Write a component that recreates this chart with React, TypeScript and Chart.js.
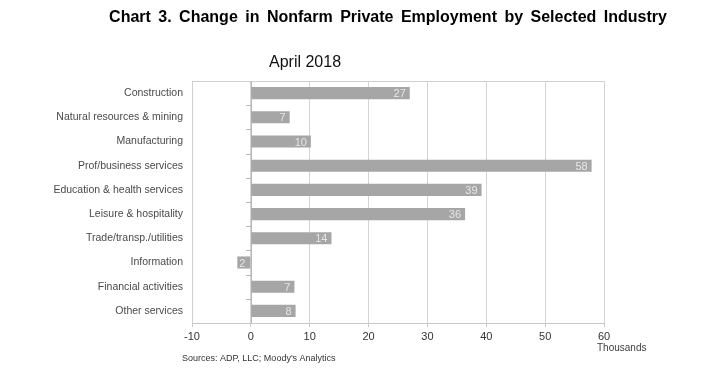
import React, { useEffect, useRef } from "react";
import { Chart, registerables } from "chart.js";

Chart.register(...registerables);

const categories = [
  "Construction",
  "Natural resources & mining",
  "Manufacturing",
  "Prof/business services",
  "Education & health services",
  "Leisure & hospitality",
  "Trade/transp./utilities",
  "Information",
  "Financial activities",
  "Other services",
];
const values = [27, 6.6, 10.2, 57.9, 39.2, 36.4, 13.7, -2.3, 7.4, 7.6];
const valueLabels = ["27", "7", "10", "58", "39", "36", "14", "2", "7", "8"];
const xTicks = [-10, 0, 10, 20, 30, 40, 50, 60];
const chartTitle = "Chart 3. Change in Nonfarm Private Employment by Selected Industry";
const subTitle = "April 2018";
const unitLabel = "Thousands";
const sourceNote = "Sources: ADP, LLC; Moody's Analytics";

const FONT = "'Liberation Sans', Arial, sans-serif";

export default function App() {
  const ref = useRef<HTMLCanvasElement | null>(null);

  useEffect(() => {
    document.body.style.margin = "0";
    const canvas = ref.current;
    if (!canvas) return;

    const overlay = {
      id: "overlay",
      beforeDatasetsDraw(chart: any) {
        const { ctx, chartArea, scales } = chart;
        const x0 = scales.x.getPixelForValue(0);
        ctx.save();
        ctx.strokeStyle = "#cfcfcf";
        ctx.lineWidth = 1;
        ctx.beginPath();
        ctx.moveTo(chartArea.left, chartArea.top + 0.5);
        ctx.lineTo(chartArea.right, chartArea.top + 0.5);
        ctx.stroke();
        ctx.strokeStyle = "#b8b8b8";
        ctx.beginPath();
        ctx.moveTo(Math.round(x0) + 0.5, chartArea.top);
        ctx.lineTo(Math.round(x0) + 0.5, chartArea.bottom);
        ctx.stroke();
        const n = categories.length;
        const step = (chartArea.bottom - chartArea.top) / n;
        for (let i = 1; i < n; i++) {
          const y = Math.round(chartArea.top + i * step) + 0.5;
          ctx.beginPath();
          ctx.moveTo(Math.round(x0) - 5, y);
          ctx.lineTo(Math.round(x0), y);
          ctx.stroke();
        }
        ctx.restore();
      },
      afterDatasetsDraw(chart: any) {
        const { ctx } = chart;
        const meta = chart.getDatasetMeta(0);
        ctx.save();
        ctx.font = `11px ${FONT}`;
        ctx.fillStyle = "#e6e6e6";
        ctx.textBaseline = "middle";
        meta.data.forEach((bar: any, i: number) => {
          const v = values[i];
          if (v >= 0) {
            ctx.textAlign = "right";
            ctx.fillText(valueLabels[i], bar.x - 4, bar.y + 1);
          } else {
            ctx.textAlign = "left";
            ctx.fillText(valueLabels[i], bar.x + 2, bar.y + 1);
          }
        });
        ctx.restore();
      },
      afterDraw(chart: any) {
        const { ctx } = chart;
        ctx.save();
        ctx.fillStyle = "#000000";
        ctx.textBaseline = "middle";
        ctx.textAlign = "center";
        ctx.font = `bold 16px ${FONT}`;
        try {
          (ctx as any).wordSpacing = "3px";
        } catch (e) {}
        ctx.fillText(chartTitle, 388, 18);
        try {
          (ctx as any).wordSpacing = "0px";
        } catch (e) {}
        ctx.font = `16px ${FONT}`;
        ctx.fillStyle = "#111111";
        ctx.fillText(subTitle, 305, 63);
        ctx.textAlign = "left";
        ctx.fillStyle = "#404040";
        ctx.font = `10px ${FONT}`;
        ctx.fillText(unitLabel, 597, 348);
        ctx.font = `9px ${FONT}`;
        ctx.fillStyle = "#333333";
        ctx.fillText(sourceNote, 182, 359);
        ctx.restore();
      },
    };

    const chart = new Chart(canvas, {
      type: "bar",
      data: {
        labels: categories,
        datasets: [
          {
            data: values,
            backgroundColor: "#a6a6a6",
            borderWidth: 0,
            barPercentage: 0.5,
            categoryPercentage: 1,
          },
        ],
      },
      options: {
        indexAxis: "y",
        responsive: false,
        animation: false,
        layout: { padding: { left: 0, right: 103, top: 81, bottom: 0 } },
        plugins: {
          legend: { display: false },
          title: { display: false },
          tooltip: { enabled: false },
        },
        scales: {
          x: {
            min: -10,
            max: 60,
            afterBuildTicks(scale: any) {
              scale.ticks = xTicks.map((v) => ({ value: v }));
            },
            afterFit(scale: any) {
              scale.height = 54;
            },
            grid: {
              color: "#d4d4d4",
              drawTicks: true,
              tickLength: 4,
              tickColor: "#c8c8c8",
            },
            border: { display: true, color: "#c8c8c8" },
            ticks: {
              padding: 3,
              color: "#333333",
              font: { family: FONT, size: 11 },
              maxRotation: 0,
            },
          },
          y: {
            afterFit(scale: any) {
              scale.width = 192;
            },
            grid: { display: false, drawTicks: false },
            border: { display: true, color: "#cfcfcf" },
            ticks: {
              padding: 9,
              color: "#4a4a4a",
              font: { family: FONT, size: 10.5 },
            },
          },
        },
      },
      plugins: [overlay],
    });

    return () => chart.destroy();
  }, []);

  return (
    <div style={{ position: "absolute", left: 0, top: 0, width: 707, height: 377, background: "#fff" }}>
      <canvas ref={ref} width={707} height={377} style={{ display: "block" }} />
    </div>
  );
}
